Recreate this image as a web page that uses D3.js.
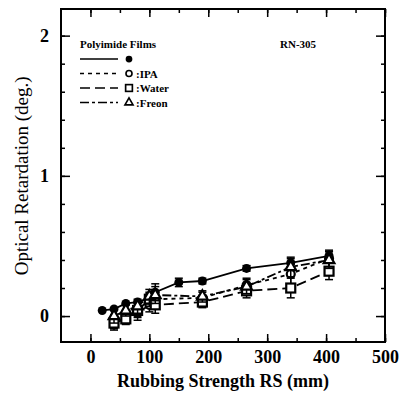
<!DOCTYPE html>
<html>
<head>
<meta charset="utf-8">
<script src="https://cdn.jsdelivr.net/npm/d3@7"></script>
<style>
  body { margin: 0; background: #fff; }
  svg { display: block; }
</style>
</head>
<body>
<script>
// rubbing strength (mm) for each series
let rs_dry = [20, 40, 60, 80, 100, 110, 150, 190, 265, 340, 405]
let ret_dry = [0.04, 0.05, 0.09, 0.10, 0.13, 0.17, 0.24, 0.25, 0.34, 0.38, 0.43]
let err_dry = [0, 0, 0, 0, 0.03, 0.06, 0.03, 0.02, 0.02, 0.03, 0.03]

let rs_solv = [40, 60, 80, 100, 110, 190, 265, 340, 405]
let ret_ipa = [-0.04, 0.00, 0.02, 0.08, 0.12, 0.13, 0.22, 0.30, 0.41]
let ret_water = [-0.05, -0.02, 0.04, 0.12, 0.08, 0.10, 0.18, 0.20, 0.32]
let ret_freon = [0.00, 0.04, 0.07, 0.14, 0.15, 0.14, 0.21, 0.35, 0.40]
let err_solv = [0.05, 0.04, 0.05, 0.05, 0.06, 0.04, 0.05, 0.07, 0.06]

let x_ticks = [0, 100, 200, 300, 400, 500]
let y_ticks = [0, 1, 2]
let legend_names = ["", ":IPA", ":Water", ":Freon"]

let W = 403, H = 400
let m = {left: 61, right: 18, top: 9, bottom: 58}

let svg = d3.select('body')
    .append('svg')
    .attr('width', W)
    .attr('height', H)

let x = d3.scaleLinear().domain([-50, 500]).range([m.left, W - m.right])
let y = d3.scaleLinear().domain([-0.185, 2.19]).range([H - m.bottom, m.top])

let font = "'Liberation Serif', 'DejaVu Serif', serif"

// frame
svg.append("rect")
    .attr("x", x(-50))
    .attr("y", y(2.19))
    .attr("width", x(500) - x(-50))
    .attr("height", y(-0.185) - y(2.19))
    .attr("fill", "none")
    .attr("stroke", "black")
    .attr("stroke-width", 2)

// inward ticks on all four sides
let x_minor = d3.range(0, 501, 50)
let y_minor = d3.range(0, 2.01, 0.2)

svg.append("g").attr("transform", `translate(0,${y(-0.185)})`)
    .call(d3.axisBottom(x).tickValues(x_ticks).tickSize(-8).tickFormat(d3.format("d")).tickPadding(8))
svg.append("g").attr("transform", `translate(0,${y(-0.185)})`)
    .call(d3.axisBottom(x).tickValues(x_minor).tickSize(-4).tickFormat(""))
svg.append("g").attr("transform", `translate(0,${y(2.19)})`)
    .call(d3.axisTop(x).tickValues(x_ticks).tickSize(-8).tickFormat(""))
svg.append("g").attr("transform", `translate(0,${y(2.19)})`)
    .call(d3.axisTop(x).tickValues(x_minor).tickSize(-4).tickFormat(""))
svg.append("g").attr("transform", `translate(${x(-50)},0)`)
    .call(d3.axisLeft(y).tickValues(y_ticks).tickSize(-9).tickFormat(d3.format("d")).tickPadding(12))
svg.append("g").attr("transform", `translate(${x(-50)},0)`)
    .call(d3.axisLeft(y).tickValues(y_minor).tickSize(-4).tickFormat(""))
svg.append("g").attr("transform", `translate(${x(500)},0)`)
    .call(d3.axisRight(y).tickValues(y_ticks).tickSize(-9).tickFormat(""))
svg.append("g").attr("transform", `translate(${x(500)},0)`)
    .call(d3.axisRight(y).tickValues(y_minor).tickSize(-4).tickFormat(""))

svg.selectAll(".domain").remove()
svg.selectAll(".tick line").attr("stroke", "black").attr("stroke-width", 1.5)
svg.selectAll(".tick text")
    .attr("fill", "black")
    .style("font-family", font)
    .style("font-weight", "bold")
    .style("font-size", "18px")

// axis titles
svg.append("text")
    .attr("x", x(225))
    .attr("y", 387)
    .attr("text-anchor", "middle")
    .style("font-family", font)
    .style("font-weight", "bold")
    .style("font-size", "18px")
    .text("Rubbing Strength RS (mm)")

svg.append("text")
    .attr("transform", `translate(28,${y(1)}) rotate(-90)`)
    .attr("text-anchor", "middle")
    .style("font-family", font)
    .style("font-size", "19px")
    .text("Optical Retardation (deg.)")

// series
let series = [
    {rs: rs_dry, v: ret_dry, e: err_dry, dash: null, sym: "dot"},
    {rs: rs_solv, v: ret_ipa, e: err_solv, dash: "4,4", sym: "circle"},
    {rs: rs_solv, v: ret_water, e: err_solv, dash: "10,5", sym: "square"},
    {rs: rs_solv, v: ret_freon, e: err_solv, dash: "9,3,3,3", sym: "triangle"}
]

let line = d3.line().x(d => x(d[0])).y(d => y(d[1]))

function marker(g, sym, cx, cy, k) {
    if (sym == "dot") {
        g.append("circle").attr("cx", cx).attr("cy", cy).attr("r", 4.5 * k).attr("fill", "black")
    } else if (sym == "circle") {
        g.append("circle").attr("cx", cx).attr("cy", cy).attr("r", 4 * k)
            .attr("fill", "white").attr("stroke", "black").attr("stroke-width", 2.2 * k)
    } else if (sym == "square") {
        g.append("rect").attr("x", cx - 4.5 * k).attr("y", cy - 4.5 * k)
            .attr("width", 9 * k).attr("height", 9 * k)
            .attr("fill", "white").attr("stroke", "black").attr("stroke-width", 2.2 * k)
    } else {
        g.append("path").attr("d", d3.symbol(d3.symbolTriangle, 50 * k * k)())
            .attr("transform", `translate(${cx},${cy})`)
            .attr("fill", "white").attr("stroke", "black").attr("stroke-width", 2.2 * k)
    }
}

series.forEach(s => {
    let pts = s.rs.map((r, i) => [r, s.v[i]])
    svg.append("path")
        .attr("d", line(pts))
        .attr("fill", "none")
        .attr("stroke", "black")
        .attr("stroke-width", 1.8)
        .attr("stroke-dasharray", s.dash)
    let g = svg.append("g")
    pts.forEach((p, i) => {
        let e = s.e[i]
        if (e > 0) {
            let cx = x(p[0])
            g.append("line").attr("x1", cx).attr("x2", cx)
                .attr("y1", y(p[1] - e)).attr("y2", y(p[1] + e))
                .attr("stroke", "black").attr("stroke-width", 1.5)
            ;[p[1] - e, p[1] + e].forEach(v => {
                g.append("line").attr("x1", cx - 4).attr("x2", cx + 4)
                    .attr("y1", y(v)).attr("y2", y(v))
                    .attr("stroke", "black").attr("stroke-width", 1.5)
            })
        }
        marker(g, s.sym, x(p[0]), y(p[1]), 1)
    })
})

// legend
svg.append("text")
    .attr("x", 80)
    .attr("y", 48)
    .style("font-family", font)
    .style("font-weight", "bold")
    .style("font-size", "11px")
    .text("Polyimide Films")

svg.append("text")
    .attr("x", 280)
    .attr("y", 48)
    .style("font-family", font)
    .style("font-weight", "bold")
    .style("font-size", "11px")
    .text("RN-305")

series.forEach((s, i) => {
    let ly = 59 + i * 14.5
    svg.append("line")
        .attr("x1", 80).attr("x2", 118)
        .attr("y1", ly).attr("y2", ly)
        .attr("stroke", "black")
        .attr("stroke-width", 1.3)
        .attr("stroke-dasharray", s.dash)
    marker(svg, s.sym, 129, ly, 0.75)
    svg.append("text")
        .attr("x", 136)
        .attr("y", ly + 4)
        .style("font-family", font)
        .style("font-weight", "bold")
        .style("font-size", "11px")
        .text(legend_names[i])
})
</script>
</body>
</html>
